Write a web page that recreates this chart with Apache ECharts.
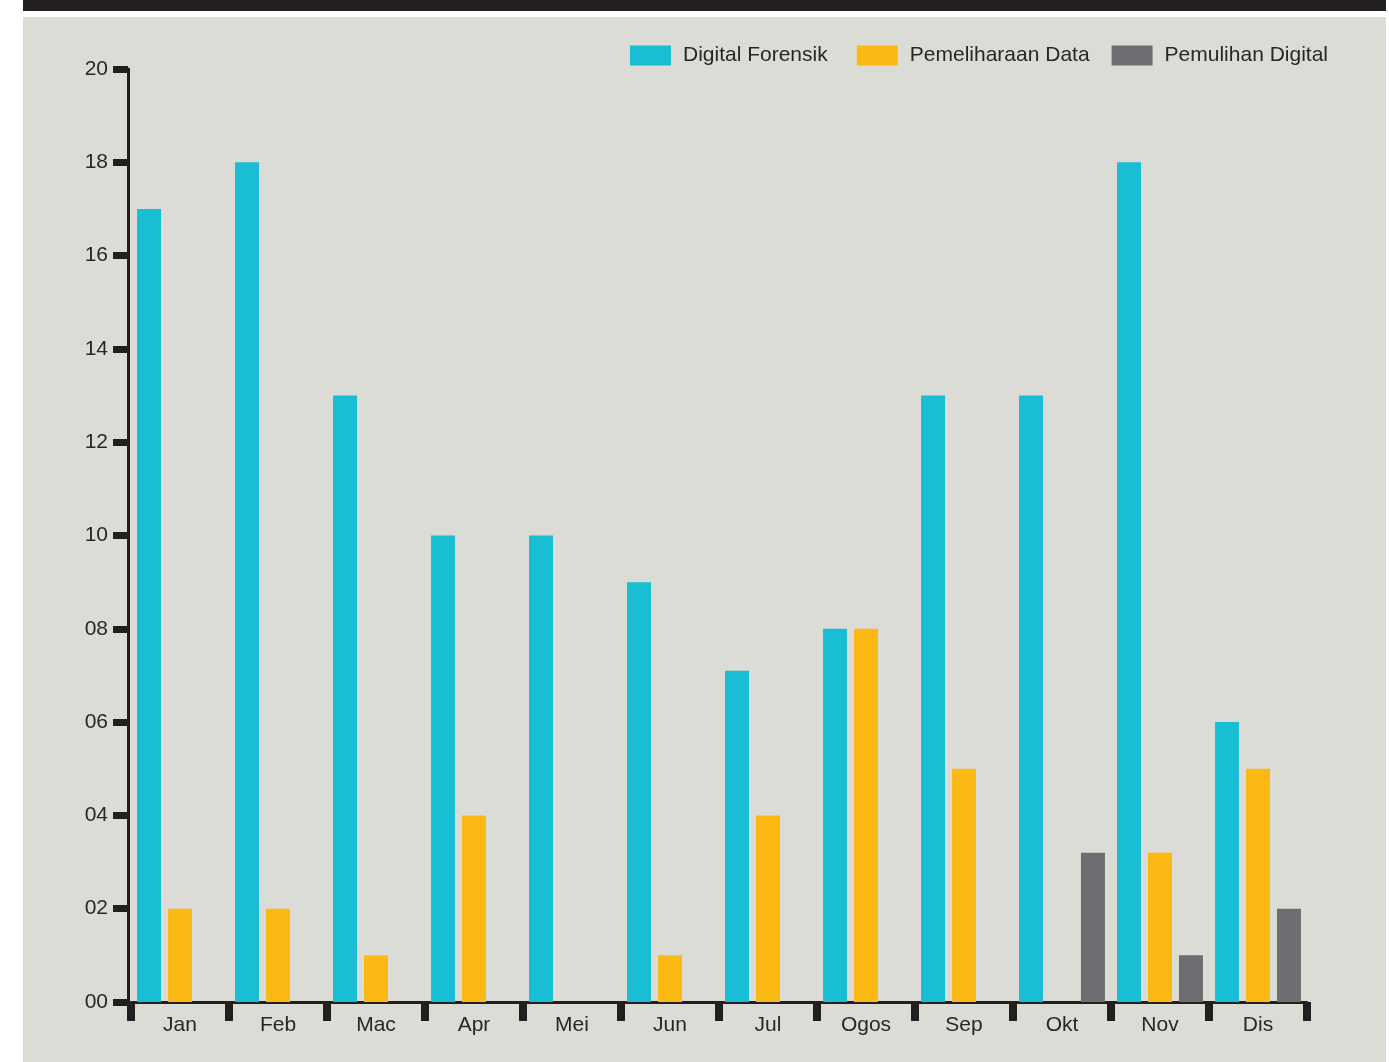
<!DOCTYPE html>
<html>
<head>
<meta charset="utf-8">
<script src="https://cdn.jsdelivr.net/npm/echarts@6/dist/echarts.min.js"></script>
<style>
html,body{margin:0;padding:0;background:#ffffff;}
#chart{width:1389px;height:1062px;}
</style>
</head>
<body>
<div id="chart"></div>
<script>
const categories = ['Jan','Feb','Mac','Apr','Mei','Jun','Jul','Ogos','Sep','Okt','Nov','Dis'];
const seriesNames = ['Digital Forensik','Pemeliharaan Data','Pemulihan Digital'];
const digitalForensik   = [17, 18, 13, 10, 10, 9, 7.1, 8, 13, 13, 18, 6];
const pemeliharaanData  = [2, 2, 1, 4, 0, 1, 4, 8, 5, 0, 3.2, 5];
const pemulihanDigital  = [0, 0, 0, 0, 0, 0, 0, 0, 0, 3.2, 1, 2];
const yTicks = [0, 2, 4, 6, 8, 10, 12, 14, 16, 18, 20];
const colors = ['#19BDD4', '#FDB913', '#6D6E71'];

const chart = echarts.init(document.getElementById('chart'), null, {renderer: 'canvas'});
const textColor = '#2a2627';
const fontFamily = 'Liberation Sans, Arial, Helvetica, sans-serif';

function bar(name, data, color) {
  return {
    name: name,
    type: 'bar',
    data: data,
    barWidth: 24,
    barGap: '29%',
    itemStyle: {color: color},
    z: 2
  };
}

const legendBase = {
  top: 40,
  itemWidth: 41,
  itemHeight: 20,
  itemGap: 22,
  icon: 'rect',
  textStyle: {fontSize: 21, color: textColor, fontFamily: fontFamily, padding: [0, 0, 0, 7]}
};

chart.setOption({
  animation: false,
  backgroundColor: '#ffffff',
  graphic: [
    {type: 'rect', shape: {x: 23, y: 0, width: 1363, height: 11}, style: {fill: '#231F20'}, z: -10},
    {type: 'rect', shape: {x: 23, y: 17, width: 1363, height: 1045}, style: {fill: '#DCDCD6'}, z: -10}
  ],
  color: colors,
  legend: [
    Object.assign({}, legendBase, {data: [seriesNames[0]], left: 625}),
    Object.assign({}, legendBase, {data: [seriesNames[1], seriesNames[2]], right: 56})
  ],
  grid: {left: 131, right: 82, top: 69, bottom: 60, containLabel: false},
  xAxis: {
    type: 'category',
    data: categories,
    boundaryGap: true,
    axisLine: {show: true, lineStyle: {color: '#231F20', width: 3}},
    axisTick: {show: true, alignWithLabel: false, length: 19, lineStyle: {color: '#231F20', width: 8}},
    axisLabel: {fontSize: 21, color: textColor, fontFamily: fontFamily, margin: 13},
    splitLine: {show: false}
  },
  yAxis: {
    type: 'value',
    offset: 3,
    min: yTicks[0],
    max: yTicks[yTicks.length - 1],
    interval: 2,
    axisLine: {show: true, lineStyle: {color: '#231F20', width: 3}},
    axisTick: {show: true, length: 15, lineStyle: {color: '#231F20', width: 7}},
    axisLabel: {
      fontSize: 21, color: textColor, fontFamily: fontFamily, margin: 20,
      formatter: function (v) { return String(v).padStart(2, '0'); }
    },
    splitLine: {show: false}
  },
  series: [
    bar(seriesNames[0], digitalForensik, colors[0]),
    bar(seriesNames[1], pemeliharaanData, colors[1]),
    bar(seriesNames[2], pemulihanDigital, colors[2])
  ]
});
</script>
</body>
</html>
